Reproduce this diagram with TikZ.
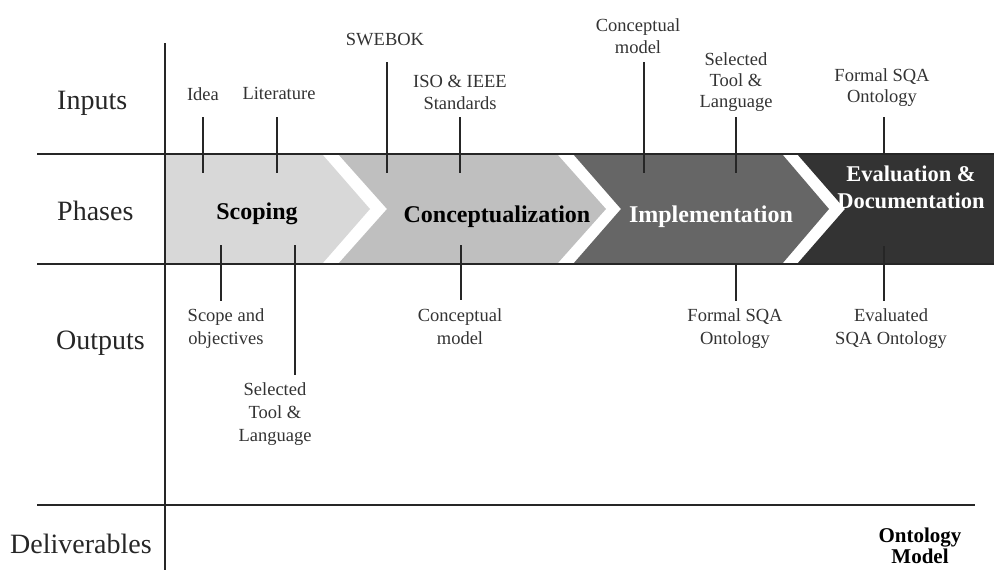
\documentclass[tikz,border=0pt]{standalone}
\usepackage{fontspec}
\setmainfont{Liberation Serif}
\definecolor{phA}{HTML}{D8D8D8}
\definecolor{phB}{HTML}{BFBFBF}
\definecolor{phC}{HTML}{666666}
\definecolor{phD}{HTML}{333333}
\begin{document}
\begin{tikzpicture}[x=1pt,y=-1pt,
  axis/.style={line width=2.6pt, black!85},
  tickline/.style={line width=1.4pt, black!85},
  lbl/.style={font=\fontsize{18.5}{22}\selectfont, align=center, text=black!80, inner sep=0pt, anchor=north},
  rowlbl/.style={font=\fontsize{28}{32}\selectfont, anchor=base west, inner sep=0pt, text=black!85},
  phaselbl/.style={font=\bfseries\fontsize{24}{28}\selectfont, inner sep=0pt, anchor=base, align=center},
]
\useasboundingbox (0,0) rectangle (994,570);
% phase band
\fill[phA] (165,154) -- (322,154) -- (370,209) -- (322,264) -- (165,264) -- cycle;
\fill[phB] (338,154) -- (557,154) -- (606,209) -- (557,264) -- (338,264) -- (387,209) -- cycle;
\fill[phC] (573,154) -- (782,154) -- (829,209) -- (782,264) -- (573,264) -- (621,209) -- cycle;
\fill[phD] (797,154) -- (994,154) -- (994,264) -- (797,264) -- (845,209) -- cycle;
% axes
\coordinate (h1a) at (37,154); \coordinate (h1b) at (994,154);
\coordinate (h2a) at (37,264); \coordinate (h2b) at (994,264);
\coordinate (h3a) at (37,505); \coordinate (h3b) at (975,505);
\coordinate (va) at (165,43); \coordinate (vb) at (165,570);
\draw[axis] (h1a) -- (h1b);
\draw[axis] (h2a) -- (h2b);
\draw[axis] (h3a) -- (h3b);
\draw[axis] (va) -- (vb);
% row labels
\node[rowlbl] (rin) at (57,109) {Inputs};
\node[rowlbl] (rph) at (57,220) {Phases};
\node[rowlbl] (rout) at (56,349) {Outputs};
\node[rowlbl] (rdel) at (10,553) {Deliverables};
% phase labels
\node[phaselbl] (pscop) at (257,219) {Scoping};
\node[phaselbl] (pconc) at (497,222) {Conceptualization};
\node[phaselbl, text=white] (pimpl) at (711,222) {Implementation};
\node[phaselbl, text=white, anchor=north, font=\bfseries\fontsize{22.5}{27}\selectfont] (peval) at (911,166) {Evaluation \&\\Documentation};
% input labels
\node[lbl] (iidea) at (203,87) {Idea};
\node[lbl] (ilit) at (279,87) {Literature};
\node[lbl] (iswe) at (385,33) {SWEBOK};
\node[lbl] (iiso) at (460,75) {ISO \& IEEE\\Standards};
\node[lbl] (icm) at (638,18) {Conceptual\\model};
\node[lbl, font=\fontsize{18.5}{21}\selectfont] (itool) at (736,52) {Selected\\Tool \&\\Language};
\node[lbl, font=\fontsize{18.5}{21}\selectfont] (isqa) at (882,68) {Formal SQA\\Ontology};
% output labels
\node[lbl, font=\fontsize{18.5}{23}\selectfont] (oscope) at (226,308) {Scope and\\objectives};
\node[lbl, font=\fontsize{18.5}{23}\selectfont] (otool) at (275,382) {Selected\\Tool \&\\Language};
\node[lbl, font=\fontsize{18.5}{23}\selectfont] (ocm) at (460,308) {Conceptual\\model};
\node[lbl, font=\fontsize{18.5}{23}\selectfont] (osqa) at (735,308) {Formal SQA\\Ontology};
\node[lbl, font=\fontsize{18.5}{23}\selectfont] (oeval) at (891,308) {Evaluated\\SQA Ontology};
% deliverable
\node[phaselbl, anchor=north, font=\bfseries\fontsize{21}{21}\selectfont] (dont) at (920,528) {Ontology\\Model};
% input ticks
\coordinate (t1a) at (203,117); \coordinate (t1b) at (203,173);
\coordinate (t2a) at (277,117); \coordinate (t2b) at (277,173);
\coordinate (t3a) at (387,62);  \coordinate (t3b) at (387,173);
\coordinate (t4a) at (460,117); \coordinate (t4b) at (460,173);
\coordinate (t5a) at (644,62);  \coordinate (t5b) at (644,173);
\coordinate (t6a) at (736,117); \coordinate (t6b) at (736,173);
\coordinate (t7a) at (884,117); \coordinate (t7b) at (884,154);
\foreach \t in {1,...,7} {\draw[tickline] (t\t a) -- (t\t b);}
% output ticks
\coordinate (u1a) at (221,245); \coordinate (u1b) at (221,301);
\coordinate (u2a) at (295,245); \coordinate (u2b) at (295,375);
\coordinate (u3a) at (461,245); \coordinate (u3b) at (461,300);
\coordinate (u4a) at (736,264); \coordinate (u4b) at (736,301);
\coordinate (u5a) at (884,246); \coordinate (u5b) at (884,301);
\foreach \t in {1,...,5} {\draw[tickline] (u\t a) -- (u\t b);}
\end{tikzpicture}
\end{document}
